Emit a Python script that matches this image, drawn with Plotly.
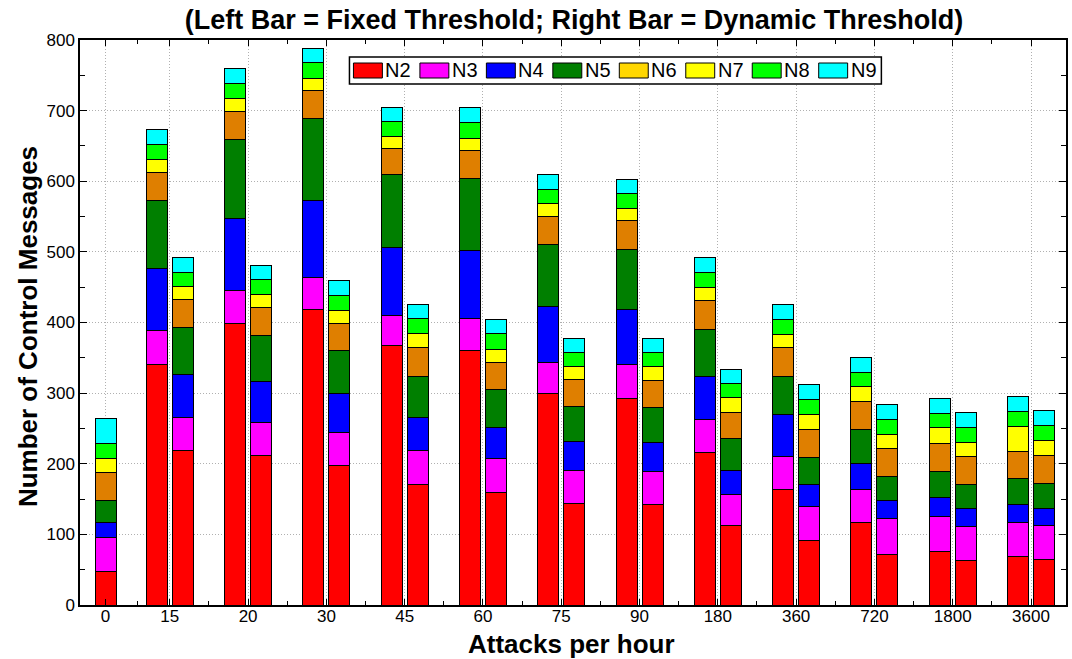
import plotly.graph_objects as go

# x axis categories (attacks per hour) and where they sit on the axis
categories = ["0", "15", "20", "30", "45", "60", "75", "90", "180", "360", "720", "1800", "3600"]
cat_pos = [0.18, 1, 2, 3, 4, 5, 6, 7, 8, 9, 10, 11, 12]

series = ["N2", "N3", "N4", "N5", "N6", "N7", "N8", "N9"]
bar_colors = ["#FF0000", "#FF00FF", "#0000FF", "#007F00", "#DF7F00", "#FFFF00", "#00FF00", "#00FFFF"]
legend_colors = ["#FF0000", "#FF00FF", "#0000FF", "#007F00", "#FFD700", "#FFFF00", "#00FF00", "#00FFFF"]

# left bar = fixed threshold (one per category, incl. 0)
n2_fixed = [48, 341, 398, 419, 367, 360, 299, 293, 216, 163, 117, 76, 68]
n3_fixed = [48, 47, 47, 45, 43, 46, 45, 47, 47, 47, 46, 49, 49]
n4_fixed = [21, 88, 102, 109, 96, 96, 79, 79, 60, 60, 38, 27, 26]
n5_fixed = [31, 97, 112, 116, 103, 102, 88, 84, 67, 54, 48, 37, 36]
n6_fixed = [39, 40, 40, 39, 37, 40, 39, 41, 41, 40, 39, 40, 38]
n7_fixed = [21, 18, 18, 18, 18, 17, 18, 17, 18, 19, 21, 22, 36]
n8_fixed = [21, 21, 21, 22, 20, 22, 21, 21, 22, 21, 20, 20, 21]
n9_fixed = [35, 21, 22, 20, 20, 21, 21, 21, 21, 21, 22, 21, 21]

# right bar = dynamic threshold (no right bar at 0)
n2_dyn = [219, 212, 198, 171, 160, 144, 143, 113, 91, 72, 63, 64]
n3_dyn = [47, 47, 46, 48, 47, 46, 46, 44, 49, 50, 48, 48]
n4_dyn = [60, 58, 55, 47, 45, 42, 41, 34, 30, 26, 25, 25]
n5_dyn = [67, 65, 61, 58, 53, 49, 50, 45, 39, 34, 34, 35]
n6_dyn = [39, 39, 39, 40, 39, 38, 38, 37, 40, 40, 40, 40]
n7_dyn = [19, 18, 18, 20, 18, 18, 19, 21, 21, 20, 20, 21]
n8_dyn = [20, 22, 21, 21, 22, 21, 20, 19, 21, 21, 22, 21]
n9_dyn = [21, 20, 21, 20, 20, 19, 20, 20, 21, 21, 21, 21]

fixed = [n2_fixed, n3_fixed, n4_fixed, n5_fixed, n6_fixed, n7_fixed, n8_fixed, n9_fixed]
dynamic = [n2_dyn, n3_dyn, n4_dyn, n5_dyn, n6_dyn, n7_dyn, n8_dyn, n9_dyn]

FONT = "Liberation Sans, Arial, Helvetica, sans-serif"
W, H = 1072, 659
L, R, T, B = 80, 4, 40, 54

off = 0.166
bar_w = 0.268
x_fixed = [p - off if i > 0 else p for i, p in enumerate(cat_pos)]
x_dyn = [p + off for p in cat_pos[1:]]

fig = go.Figure()
for name, color, fx, dy in zip(series, bar_colors, fixed, dynamic):
    fig.add_trace(go.Bar(
        x=x_fixed + x_dyn, y=fx + dy, width=bar_w, name=name,
        marker=dict(color=color, line=dict(color="black", width=1)),
        showlegend=False,
    ))


# pixel -> paper helpers for the hand drawn legend
def px_x(px):
    return (px - L) / (W - L - R)


def px_y(py):
    return (H - B - py) / (H - T - B)


shapes = [dict(type="rect", xref="paper", yref="paper",
               x0=px_x(350), x1=px_x(883), y0=px_y(84), y1=px_y(57),
               line=dict(color="black", width=1.5), fillcolor="white", layer="above")]
annotations = []
for i, (name, color) in enumerate(zip(series, legend_colors)):
    sx = 354 + i * 66.6
    shapes.append(dict(type="rect", xref="paper", yref="paper",
                       x0=px_x(sx), x1=px_x(sx + 29), y0=px_y(78), y1=px_y(63),
                       line=dict(color="black", width=1), fillcolor=color, layer="above"))
    annotations.append(dict(text=name, xref="paper", yref="paper", x=px_x(sx + 30), y=px_y(70.5),
                            xanchor="left", yanchor="middle", showarrow=False,
                            font=dict(family=FONT, size=20, color="black")))

annotations.append(dict(text="Number of Control Messages", xref="paper", yref="paper",
                        x=px_x(28), y=px_y(327), textangle=-90, showarrow=False,
                        xanchor="center", yanchor="middle",
                        font=dict(family=FONT, size=26, color="black", weight="bold")))
annotations.append(dict(text="Attacks per hour", xref="paper", yref="paper",
                        x=px_x(572), y=px_y(644), showarrow=False,
                        xanchor="center", yanchor="middle",
                        font=dict(family=FONT, size=26, color="black", weight="bold")))

mids = [(a + b) / 2 for a, b in zip(cat_pos[:-1], cat_pos[1:])]

fig.update_layout(
    barmode="stack",
    width=W, height=H,
    margin=dict(l=L, r=R, t=T, b=B),
    plot_bgcolor="white", paper_bgcolor="white",
    font=dict(family=FONT, size=17, color="black"),
    title=dict(text="(Left Bar = Fixed Threshold; Right Bar = Dynamic Threshold)",
               x=px_x(575), xref="paper", xanchor="center",
               y=1 - 20 / H, yanchor="middle",
               font=dict(family=FONT, size=27, color="black", weight="bold")),
    shapes=shapes,
    annotations=annotations,
)
fig.update_xaxes(
    range=[-0.147, 12.447], tickmode="array", tickvals=cat_pos, ticktext=categories,
    ticks="inside", ticklen=6, tickcolor="black", tickwidth=1, ticklabelstandoff=-5,
    showline=True, linecolor="black", linewidth=1.5, mirror="allticks",
    showgrid=True, gridcolor="#b0b0b0", griddash="1px,2px", gridwidth=1, zeroline=False,
    minor=dict(tickvals=mids, ticks="inside", ticklen=4, tickcolor="black", showgrid=False),
)
fig.update_yaxes(
    range=[0, 800], tickmode="linear", tick0=0, dtick=100,
    ticks="inside", ticklen=7, tickcolor="black", tickwidth=1,
    showline=True, linecolor="black", linewidth=1.5, mirror="allticks",
    showgrid=True, gridcolor="#b0b0b0", griddash="1px,2px", gridwidth=1, zeroline=False,
    minor=dict(dtick=50, ticks="inside", ticklen=5, tickcolor="black", showgrid=False),
)

fig.write_html("out.html", config={"displayModeBar": False},
               post_script="document.body.style.margin='0';")
